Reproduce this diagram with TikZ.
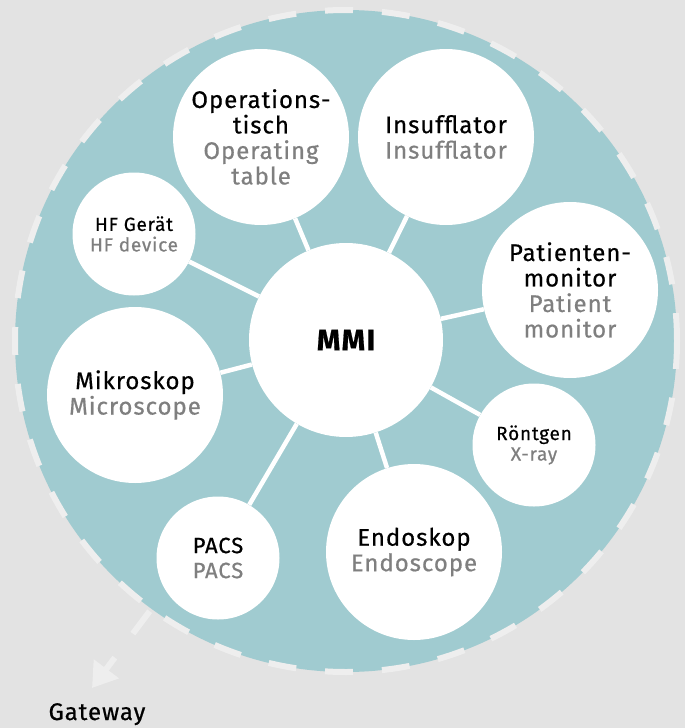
\documentclass[tikz,border=0pt]{standalone}
\usepackage{fontspec}
\setmainfont{Fira Sans}[LetterSpace=4, FakeBold=0.6]
\usetikzlibrary{arrows.meta}

\definecolor{bggrey}{HTML}{E3E3E3}
\definecolor{ringteal}{HTML}{A0CBD0}
\definecolor{dashgrey}{HTML}{EEEEEE}
\definecolor{engrey}{HTML}{7F7F7F}
\newcommand{\en}[1]{{\color{engrey}#1}}

\tikzset{
  bubble/.style={circle, fill=white, inner sep=0pt, align=center,
    font=\fontsize{24}{25.5}\selectfont},
  big bubble/.style={bubble, minimum size=176pt},
  small bubble/.style={bubble, minimum size=123pt,
    font=\fontsize{19}{20.5}\selectfont},
  link/.style={white, line width=4.5pt},
  gateway arrow/.style={dashgrey, line width=6pt, dash pattern=on 28pt off 30pt,
    -{Triangle[width=30pt,length=24pt]}},
}

\begin{document}
\begin{tikzpicture}[x=1pt,y=-1pt]
  \useasboundingbox[fill=bggrey] (0,0) rectangle (685,728);

  % the ring
  \node[circle, inner sep=0pt, minimum size=662pt, fill=ringteal,
    draw=dashgrey, line width=6pt, dash pattern=on 28pt off 29pt] (ring) at (346,341) {};

  \node[bubble, minimum size=194pt, font=\bfseries\fontsize{30}{32}\selectfont] (mmi) at (346,340) {MMI};

  \node[big bubble] (op) at (261,137) {Operations-\\tisch\\\en{Operating}\\\en{table}};
  \node[big bubble] (ins) at (446,137) {Insufflator\\\en{Insufflator}};
  \node[big bubble] (pat) at (570,290) {Patienten-\\monitor\\\en{Patient}\\\en{monitor}};
  \node[small bubble] (rnt) at (534,445) {Röntgen\\\en{X-ray}};
  \node[big bubble] (endo) at (414,552) {Endoskop\\\en{Endoscope}};
  \node[small bubble, font=\fontsize{22}{25}\selectfont] (pacs) at (218,558) {PACS\\\en{PACS}};
  \node[big bubble] (mik) at (135,395) {Mikroskop\\\en{Microscope}};
  \node[small bubble] (hf) at (134,234) {HF Gerät\\\en{HF device}};

  \foreach \dev in {op,ins,pat,rnt,endo,pacs,mik,hf}
    \draw[link] (mmi) -- (\dev);

  % gateway
  \node[font=\fontsize{24}{26}\selectfont, anchor=base, inner sep=0pt] (gw) at (97,720) {Gateway};
  \coordinate (gwtip) at (92,688);
  \draw[gateway arrow] (ring.234.8) -- (gwtip);
\end{tikzpicture}
\end{document}
